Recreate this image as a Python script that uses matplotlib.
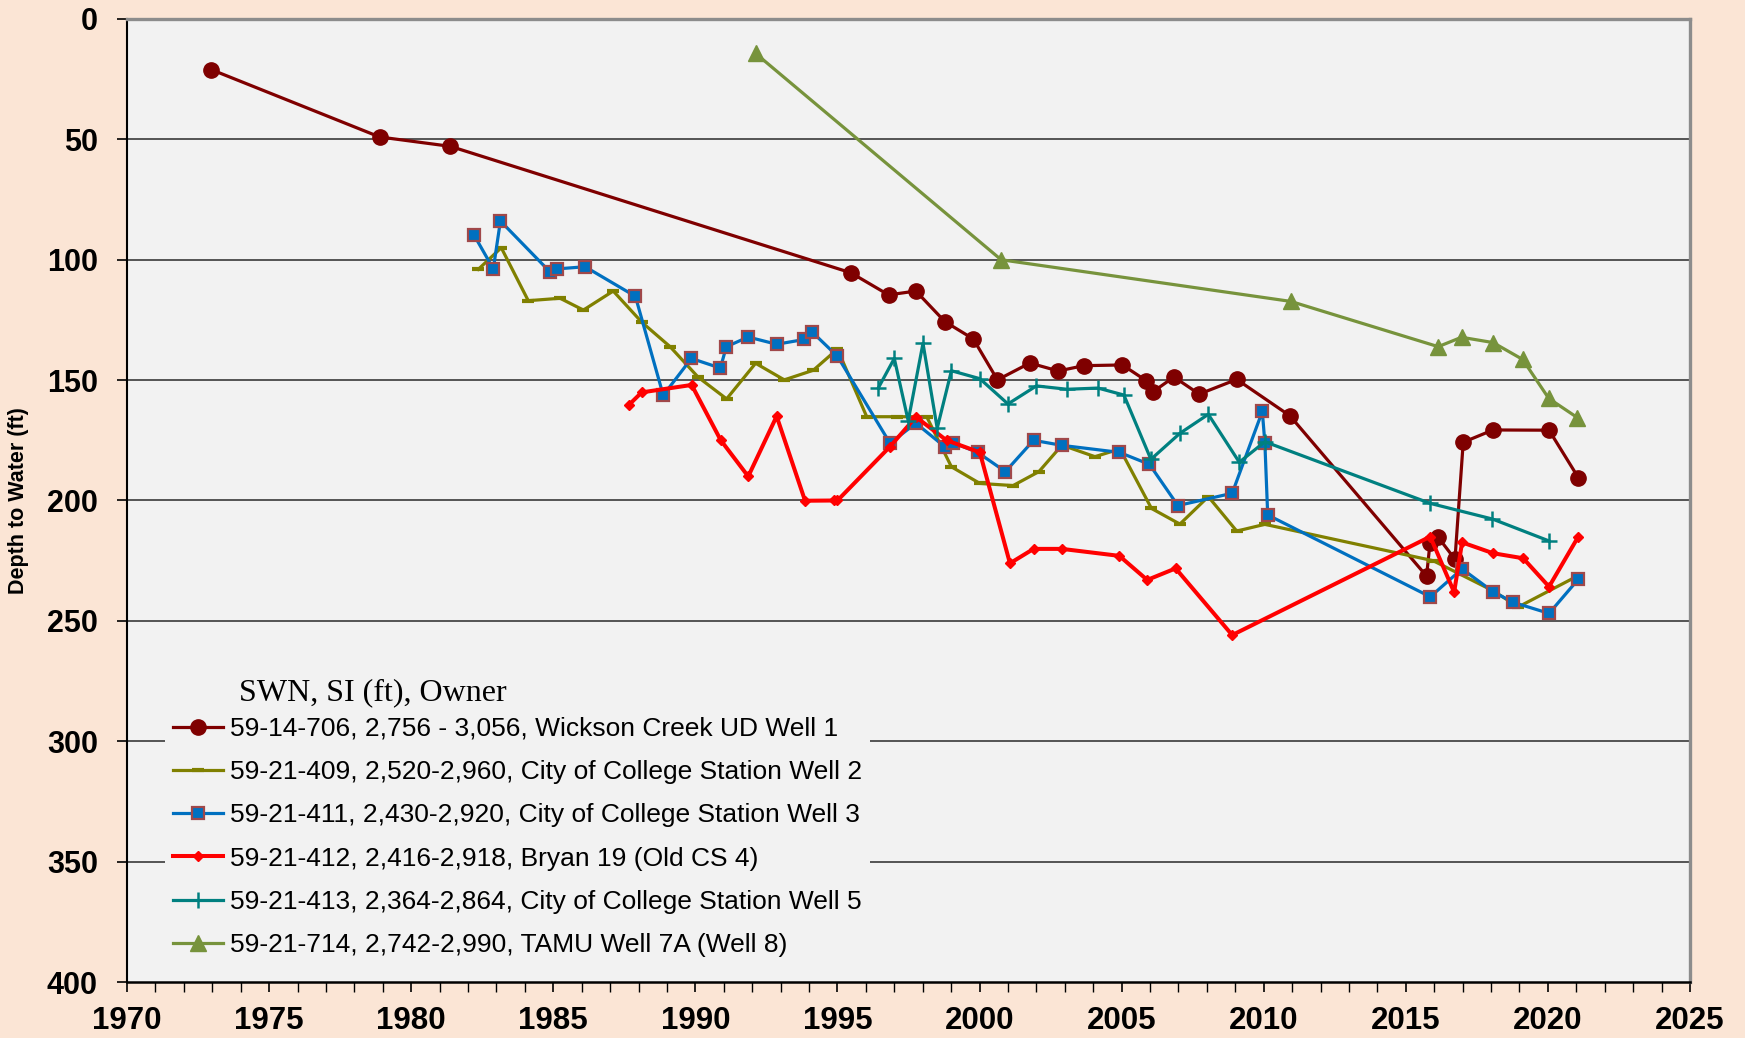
import matplotlib
matplotlib.use("Agg")
import matplotlib.pyplot as plt
from matplotlib.ticker import MultipleLocator

# ---------------- data ----------------
w1_years = [1972.96, 1978.89, 1981.38, 1995.47, 1996.80, 1997.76, 1998.78, 1999.78, 2000.63,
            2001.77, 2002.77, 2003.67, 2005.03, 2005.86, 2006.11, 2006.84, 2007.73, 2009.05,
            2010.92, 2015.73, 2015.85, 2016.14, 2016.73, 2017.02, 2018.07, 2020.04, 2021.07]
w1_depth = [21.0, 49.0, 52.9, 105.4, 114.6, 113.0, 125.7, 132.9, 149.9,
            142.9, 146.2, 144.0, 143.7, 150.2, 154.8, 148.7, 155.8, 149.7,
            164.8, 231.4, 217.8, 215.3, 224.4, 175.8, 170.7, 170.8, 190.5]

w2_years = [1982.36, 1983.17, 1984.12, 1985.24, 1986.06, 1987.11, 1988.12, 1989.11, 1990.10,
            1991.10, 1992.12, 1993.13, 1994.15, 1995.00, 1996.03, 1997.08, 1998.14, 1999.01,
            2000.01, 2001.18, 2002.09, 2002.90, 2004.06, 2004.94, 2006.05, 2007.05, 2008.05,
            2009.05, 2010.04, 2015.96, 2018.07, 2018.96, 2021.10]
w2_depth = [104.0, 95.0, 117.0, 116.0, 120.9, 113.0, 126.0, 136.1, 148.8,
            157.8, 143.0, 149.9, 145.9, 137.1, 165.2, 165.2, 165.2, 186.0,
            192.9, 193.8, 188.0, 177.0, 181.8, 178.6, 203.3, 209.8, 198.4,
            212.7, 209.9, 225.0, 237.5, 244.2, 231.0]

w3_years = [1982.22, 1982.89, 1983.14, 1984.88, 1985.14, 1986.12, 1987.89, 1988.87, 1989.86,
            1990.88, 1991.09, 1991.86, 1992.86, 1993.84, 1994.10, 1995.00, 1996.85, 1997.76,
            1998.80, 1999.07, 1999.93, 2000.91, 2001.90, 2002.90, 2004.92, 2005.98, 2006.98,
            2008.89, 2009.95, 2010.04, 2010.14, 2015.86, 2016.98, 2018.07, 2018.78, 2020.04,
            2021.07]
w3_depth = [89.9, 103.8, 83.9, 105.0, 103.8, 102.9, 115.2, 156.3, 141.0,
            145.0, 136.1, 132.1, 135.1, 133.1, 129.9, 140.1, 176.2, 167.9,
            177.9, 176.0, 180.0, 188.0, 175.0, 177.1, 180.0, 185.0, 202.1,
            197.0, 163.0, 176.0, 206.0, 240.0, 228.4, 237.9, 242.3, 246.9,
            232.7]

w4_years = [1987.66, 1988.11, 1989.87, 1990.89, 1991.86, 1992.86, 1993.86, 1994.88, 1995.00,
            1996.85, 1997.76, 1998.84, 2000.01, 2001.07, 2001.90, 2002.90, 2004.92, 2005.90,
            2006.90, 2008.89, 2015.86, 2016.70, 2016.98, 2018.07, 2019.13, 2020.04, 2021.07]
w4_depth = [160.3, 155.1, 152.0, 174.9, 190.0, 165.0, 200.1, 200.0, 200.0,
            177.6, 165.3, 175.0, 180.0, 226.1, 220.1, 220.1, 223.0, 233.0,
            228.2, 255.9, 215.0, 238.1, 217.4, 221.9, 224.0, 235.8, 215.0]

w5_years = [1996.44, 1997.00, 1997.49, 1998.01, 1998.51, 1999.01, 2000.01, 2001.00, 2002.00,
            2003.08, 2004.17, 2005.08, 2006.03, 2007.05, 2008.05, 2009.14, 2010.04, 2015.86,
            2018.05, 2020.04]
w5_depth = [153.2, 141.0, 166.9, 134.7, 170.0, 146.1, 149.4, 159.9, 152.4,
            153.8, 153.3, 156.2, 182.9, 172.1, 164.2, 184.1, 175.6, 201.2,
            207.7, 216.8]

w8_years = [1992.12, 2000.76, 2010.95, 2016.14, 2016.96, 2018.07, 2019.11, 2020.03, 2021.04]
w8_depth = [14.3, 100.0, 117.3, 136.1, 132.2, 134.4, 141.4, 157.6, 165.6]

labels = [
    "59-14-706, 2,756 - 3,056, Wickson Creek UD Well 1",
    "59-21-409, 2,520-2,960, City of College Station Well 2",
    "59-21-411, 2,430-2,920, City of College Station Well 3",
    "59-21-412, 2,416-2,918, Bryan 19 (Old CS 4)",
    "59-21-413, 2,364-2,864, City of College Station Well 5",
    "59-21-714, 2,742-2,990, TAMU Well 7A (Well 8)",
]
legend_title = "SWN, SI (ft), Owner"
y_ticks = [0, 50, 100, 150, 200, 250, 300, 350, 400]
x_ticks = [1970, 1975, 1980, 1985, 1990, 1995, 2000, 2005, 2010, 2015, 2020, 2025]

# ---------------- figure ----------------
plt.rcParams['font.family'] = ['Liberation Sans', 'DejaVu Sans']

fig = plt.figure(figsize=(17.45, 10.38), dpi=100)
fig.patch.set_facecolor('#FBE5D5')
ax = fig.add_axes([127/1745, 1-982/1038, (1690-127)/1745, (982-19)/1038])
ax.set_facecolor('#F2F2F2')

ax.set_xlim(1970, 2025)
ax.set_ylim(400, 0)

for yv in y_ticks[1:-1]:
    ax.axhline(yv, color='#3A3A3A', lw=1.2, zorder=1)

ax.plot(w1_years, w1_depth, color='#7F0000', lw=2.3, marker='o', ms=11,
        mfc='#7F0000', mec='#7F0000', label=labels[0], zorder=3)
ax.plot(w2_years, w2_depth, color='#808000', lw=2.3, marker='_', ms=8, mew=3,
        mec='#808000', label=labels[1], zorder=4)
ax.plot(w3_years, w3_depth, color='#0070C0', lw=2.3, marker='s', ms=8.5,
        mfc='#0070C0', mec='#A0484A', mew=1.6, label=labels[2], zorder=5)
ax.plot(w4_years, w4_depth, color='#FF0000', lw=2.9, marker='D', ms=5.5,
        mfc='#FF0000', mec='#FF0000', label=labels[3], zorder=6)
ax.plot(w5_years, w5_depth, color='#008080', lw=2.3, marker='+', ms=11, mew=1.8,
        label=labels[4], zorder=7)
ax.plot(w8_years, w8_depth, color='#77933C', lw=2.3, marker='^', ms=11,
        mfc='#77933C', mec='#77933C', label=labels[5], zorder=8)

# axes styling
ax.set_yticks(y_ticks)
ax.set_xticks(x_ticks)
ax.xaxis.set_minor_locator(MultipleLocator(1))
ax.tick_params(axis='both', which='major', direction='out', length=7, width=1.2,
               colors='black')
ax.tick_params(axis='x', which='major', labelsize=22.5, pad=10)
ax.tick_params(axis='y', which='major', labelsize=22, pad=14)
ax.tick_params(axis='x', which='minor', direction='out', length=7, width=1.0)
for lab in ax.get_xticklabels() + ax.get_yticklabels():
    lab.set_fontweight('bold')

ax.spines['left'].set_color('black')
ax.spines['left'].set_linewidth(1.5)
ax.spines['bottom'].set_color('black')
ax.spines['bottom'].set_linewidth(1.8)
ax.spines['top'].set_color('#8C8C8C')
ax.spines['top'].set_linewidth(2.4)
ax.spines['right'].set_color('#8C8C8C')
ax.spines['right'].set_linewidth(2.4)

ax.set_ylabel('Depth to Water (ft)', fontsize=15.5, fontweight='bold')
ax.yaxis.set_label_coords(-0.0625, 0.5)

leg = ax.legend(loc='upper left', bbox_to_anchor=(165/1745, 1-709/1038),
                bbox_transform=fig.transFigure, frameon=True, fancybox=False,
                facecolor='#F2F2F2', edgecolor='none', framealpha=1.0,
                fontsize=19, handlelength=1.9, handletextpad=0.25,
                labelspacing=0.73, borderpad=0.3, borderaxespad=0)
leg.set_zorder(20)

fig.text(239/1745, 1-693/1038, legend_title, fontsize=23, family='Liberation Serif',
         ha='left', va='center', zorder=25)

fig.savefig('out.png', dpi=100, facecolor=fig.get_facecolor())
